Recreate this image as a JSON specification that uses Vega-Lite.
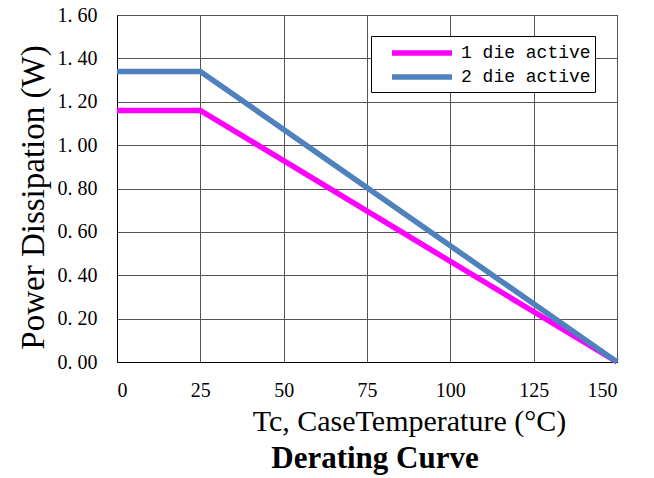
{
  "$schema": "https://vega.github.io/schema/vega-lite/v6.json",
  "width": 500,
  "height": 347,
  "autosize": {"type": "none"},
  "padding": {"left": 117, "top": 15, "right": 37, "bottom": 116},
  "background": "white",
  "title": {
    "text": "Derating Curve",
    "orient": "bottom",
    "anchor": "middle",
    "font": "Liberation Serif",
    "fontSize": 31,
    "fontWeight": "bold",
    "color": "black",
    "offset": 8,
    "dx": 8
  },
  "data": {
    "values": [
      {"t": 0, "p": 1.16, "s": "1 die active"},
      {"t": 25, "p": 1.16, "s": "1 die active"},
      {"t": 150, "p": 0.0, "s": "1 die active"},
      {"t": 0, "p": 1.34, "s": "2 die active"},
      {"t": 25, "p": 1.34, "s": "2 die active"},
      {"t": 150, "p": 0.0, "s": "2 die active"}
    ]
  },
  "mark": {"type": "line", "strokeWidth": 5.5, "clip": false},
  "encoding": {
    "x": {
      "field": "t",
      "type": "quantitative",
      "scale": {"domain": [0, 150], "nice": false},
      "axis": {
        "values": [0, 25, 50, 75, 100, 125, 150],
        "title": "Tc, CaseTemperature (°C)",
        "titleFont": "Liberation Serif",
        "titleFontSize": 30,
        "titleFontWeight": "normal",
        "titleColor": "black",
        "titlePadding": 6,
        "titleX": 292,
        "labelFont": "Liberation Serif",
        "labelFontSize": 20,
        "labelColor": "black",
        "labelPadding": 18,
        "ticks": false,
        "domainColor": "black",
        "gridColor": "#555",
        "gridOpacity": 1
      }
    },
    "y": {
      "field": "p",
      "type": "quantitative",
      "scale": {"domain": [0, 1.6], "nice": false},
      "axis": {
        "values": [0, 0.2, 0.4, 0.6, 0.8, 1.0, 1.2, 1.4, 1.6],
        "format": ".2f",
        "labelExpr": "replace(datum.label, '.', '. ')",
        "title": "Power Dissipation (W)",
        "titleFont": "Liberation Serif",
        "titleFontSize": 33,
        "titleFontWeight": "normal",
        "titleColor": "black",
        "titleX": -84,
        "titleY": 182,
        "titleBaseline": "middle",
        "titleAlign": "center",
        "labelFont": "Liberation Serif",
        "labelFontSize": 20,
        "labelColor": "black",
        "labelPadding": 20,
        "ticks": false,
        "domainColor": "black",
        "gridColor": "#555",
        "gridOpacity": 1
      }
    },
    "color": {
      "field": "s",
      "type": "nominal",
      "scale": {"domain": ["1 die active", "2 die active"], "range": ["#FF00FF", "#4F81BD"]},
      "legend": {
        "title": null,
        "orient": "none",
        "legendX": 254,
        "legendY": 21,
        "direction": "vertical",
        "symbolType": "M-3,0H3",
        "symbolSize": 400,
        "symbolStrokeWidth": 5.5,
        "symbolOffset": 34,
        "labelFont": "Liberation Mono",
        "labelFontSize": 18,
        "labelColor": "black",
        "labelOffset": 26,
        "rowPadding": 0,
        "padding": 4,
        "strokeColor": "black",
        "fillColor": "white",
        "labelLimit": 300
      }
    }
  },
  "config": {
    "view": {"stroke": "black", "strokeWidth": 1}
  }
}
